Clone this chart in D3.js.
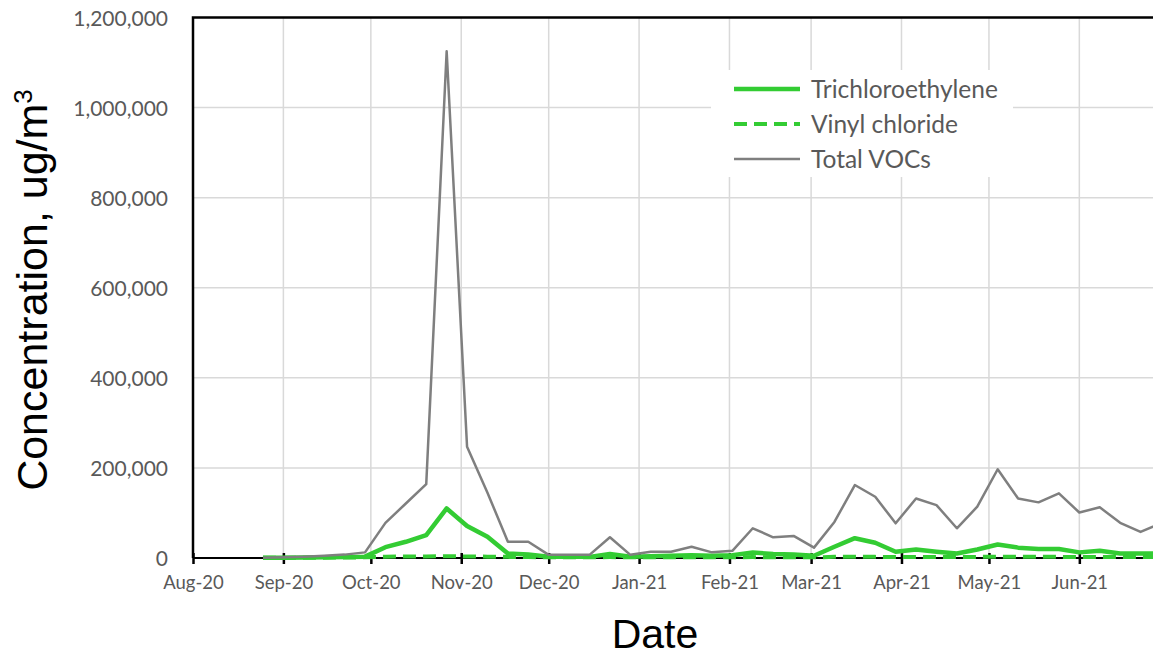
<!DOCTYPE html>
<html>
<head>
<meta charset="utf-8">
<script src="https://cdn.jsdelivr.net/npm/d3@7/dist/d3.min.js"></script>
<style>
  html, body { margin: 0; padding: 0; background: #ffffff; }
  svg { display: block; }
</style>
</head>
<body>
<svg id="chart" width="1153" height="656"></svg>
<script>
// Weekly soil-gas sampling dates
const sampleDates = [
  "2020-08-25","2020-09-01","2020-09-08","2020-09-15","2020-09-22","2020-09-29",
  "2020-10-06","2020-10-13","2020-10-20","2020-10-27","2020-11-03","2020-11-10",
  "2020-11-17","2020-11-24","2020-12-01","2020-12-08","2020-12-15","2020-12-22",
  "2020-12-29","2021-01-05","2021-01-12","2021-01-19","2021-01-26","2021-02-02",
  "2021-02-09","2021-02-16","2021-02-23","2021-03-02","2021-03-09","2021-03-16",
  "2021-03-23","2021-03-30","2021-04-06","2021-04-13","2021-04-20","2021-04-27",
  "2021-05-04","2021-05-11","2021-05-18","2021-05-25","2021-06-01","2021-06-08",
  "2021-06-15","2021-06-22","2021-06-29"
];

// Concentrations, ug/m3
const trichloroethylene = [
  500, 800, 1000, 1500, 2000, 3000,
  24000, 36000, 51000, 110000, 71000, 47000,
  10000, 8000, 3000, 2500, 2500, 9000,
  3000, 4000, 5000, 6000, 5000, 6000,
  12000, 9000, 8000, 5000, 25000, 44000,
  34000, 14000, 19000, 14000, 10000, 19000,
  30000, 23000, 20000, 20000, 12500, 16000,
  10000, 10000, 10000
];

const vinylChloride = [
  300, 500, 600, 800, 1000, 1500,
  3000, 3500, 3500, 4000, 3500, 3000,
  2500, 2000, 1500, 1500, 1500, 2000,
  1500, 1500, 1500, 1500, 1500, 1500,
  2000, 1500, 1500, 1500, 2500, 3000,
  2500, 2000, 2500, 2000, 2000, 2500,
  3000, 2500, 2500, 2500, 2000, 2000,
  2000, 2000, 2000
];

const totalVOCs = [
  500, 1500, 3000, 5000, 7500, 12500,
  78000, 121000, 164000, 1125000, 247000, 145000,
  36000, 36000, 7000, 7000, 7000, 46000,
  7000, 14000, 14000, 25000, 12500, 16000,
  66000, 46000, 49000, 23000, 80000, 162000,
  136000, 77000, 132000, 117500, 66000, 114000,
  197000, 132000, 123500, 143500, 101000, 112500,
  78000, 58000, 77000
];

const yTicks = [0, 200000, 400000, 600000, 800000, 1000000, 1200000];
const monthTicks = [
  "2020-08-01","2020-09-01","2020-10-01","2020-11-01","2020-12-01","2021-01-01",
  "2021-02-01","2021-03-01","2021-04-01","2021-05-01","2021-06-01"
];

const seriesNames = ["Trichloroethylene", "Vinyl chloride", "Total VOCs"];

const parse = d3.timeParse("%Y-%m-%d");
const dates = sampleDates.map(parse);
const tickDates = monthTicks.map(parse);

const svg = d3.select("#chart");

const plotLeft = 193, plotTop = 17.5, plotBottom = 558;
const x = d3.scaleTime()
  .domain([parse("2020-08-01"), parse("2021-07-01")])
  .range([plotLeft, 1166.8]);
const y = d3.scaleLinear()
  .domain([0, 1200000])
  .range([plotBottom, plotTop]);
const plotRight = x.range()[1];

const green = "#33cc33";
const grey = "#7f7f7f";
const labelColor = "#595959";

// Gridlines
const grid = svg.append("g");
grid.selectAll("line.h")
  .data(yTicks.filter(v => v > 0 && v < 1200000))
  .join("line")
  .attr("class", "h")
  .attr("x1", plotLeft).attr("x2", plotRight)
  .attr("y1", d => y(d)).attr("y2", d => y(d))
  .attr("stroke", "#d9d9d9").attr("stroke-width", 1.5);
grid.selectAll("line.v")
  .data(tickDates.slice(1))
  .join("line")
  .attr("class", "v")
  .attr("x1", d => x(d)).attr("x2", d => x(d))
  .attr("y1", plotTop).attr("y2", plotBottom)
  .attr("stroke", "#d9d9d9").attr("stroke-width", 1.5);

// Y axis labels
const yAxis = d3.axisLeft(y)
  .tickValues(yTicks)
  .tickFormat(d3.format(","))
  .tickSize(0)
  .tickPadding(25);
const gy = svg.append("g").attr("transform", `translate(${plotLeft},0)`).call(yAxis);
gy.select(".domain").remove();
gy.selectAll("text")
  .attr("fill", labelColor)
  .style("font-family", "Lato, 'Open Sans', sans-serif")
  .style("font-size", "21px")
  .attr("dy", "0.36em");

// X axis with crossing month ticks
const xAxis = d3.axisBottom(x)
  .tickValues(tickDates)
  .tickFormat(d3.timeFormat("%b-%y"))
  .tickSize(6)
  .tickPadding(12);
const gx = svg.append("g").attr("transform", `translate(0,${plotBottom})`).call(xAxis);
gx.select(".domain")
  .attr("d", `M${plotLeft},0H${plotRight}`)
  .attr("stroke", "#000").attr("stroke-width", 2);
gx.selectAll(".tick line")
  .attr("y1", -5).attr("y2", 6)
  .attr("stroke", "#000").attr("stroke-width", 2.5);
gx.selectAll("text")
  .attr("fill", labelColor)
  .style("font-family", "Lato, 'Open Sans', sans-serif")
  .style("font-size", "18.5px");

// Plot frame: left and top edges
svg.append("path")
  .attr("d", `M${plotRight},${plotTop}H${plotLeft}V${plotBottom}`)
  .attr("fill", "none")
  .attr("stroke", "#000")
  .attr("stroke-width", 2.5);

// Series lines
const line = vals => d3.line()
  .x((d, i) => x(dates[i]))
  .y(d => y(d))(vals);

svg.append("path")
  .attr("d", line(trichloroethylene))
  .attr("fill", "none")
  .attr("stroke", green)
  .attr("stroke-width", 4.5)
  .attr("stroke-linejoin", "round");

svg.append("path")
  .attr("d", line(vinylChloride))
  .attr("fill", "none")
  .attr("stroke", green)
  .attr("stroke-width", 4)
  .attr("stroke-dasharray", "13,7");

svg.append("path")
  .attr("d", line(totalVOCs))
  .attr("fill", "none")
  .attr("stroke", grey)
  .attr("stroke-width", 2.5)
  .attr("stroke-linejoin", "round");

// Legend
const legend = svg.append("g");
legend.append("rect")
  .attr("x", 711).attr("y", 70).attr("width", 302).attr("height", 107)
  .attr("fill", "#fff");
const legendStyles = [
  { color: green, width: 4.5, dash: null },
  { color: green, width: 4, dash: "13,7" },
  { color: grey, width: 2.5, dash: null }
];
const legendY = [89, 124, 159];
seriesNames.forEach((name, i) => {
  const s = legendStyles[i];
  legend.append("line")
    .attr("x1", 734).attr("x2", 800)
    .attr("y1", legendY[i]).attr("y2", legendY[i])
    .attr("stroke", s.color)
    .attr("stroke-width", s.width)
    .attr("stroke-dasharray", s.dash);
  legend.append("text")
    .attr("x", 811).attr("y", legendY[i])
    .attr("dy", "0.36em")
    .attr("fill", labelColor)
    .style("font-family", "Lato, 'Open Sans', sans-serif")
    .style("font-size", "24.5px")
    .text(name);
});

// Axis titles
svg.append("text")
  .attr("x", 655).attr("y", 648)
  .attr("text-anchor", "middle")
  .attr("fill", "#000")
  .style("font-family", "'Liberation Sans', Arial, sans-serif")
  .style("font-size", "41px")
  .text("Date");

const yTitle = svg.append("text")
  .attr("transform", "translate(47,290) rotate(-90)")
  .attr("text-anchor", "middle")
  .attr("fill", "#000")
  .style("font-family", "'Liberation Sans', Arial, sans-serif")
  .style("font-size", "43px");
yTitle.append("tspan").text("Concentration, ug/m");
yTitle.append("tspan")
  .attr("dy", -15)
  .style("font-size", "26px")
  .text("3");
</script>
</body>
</html>
